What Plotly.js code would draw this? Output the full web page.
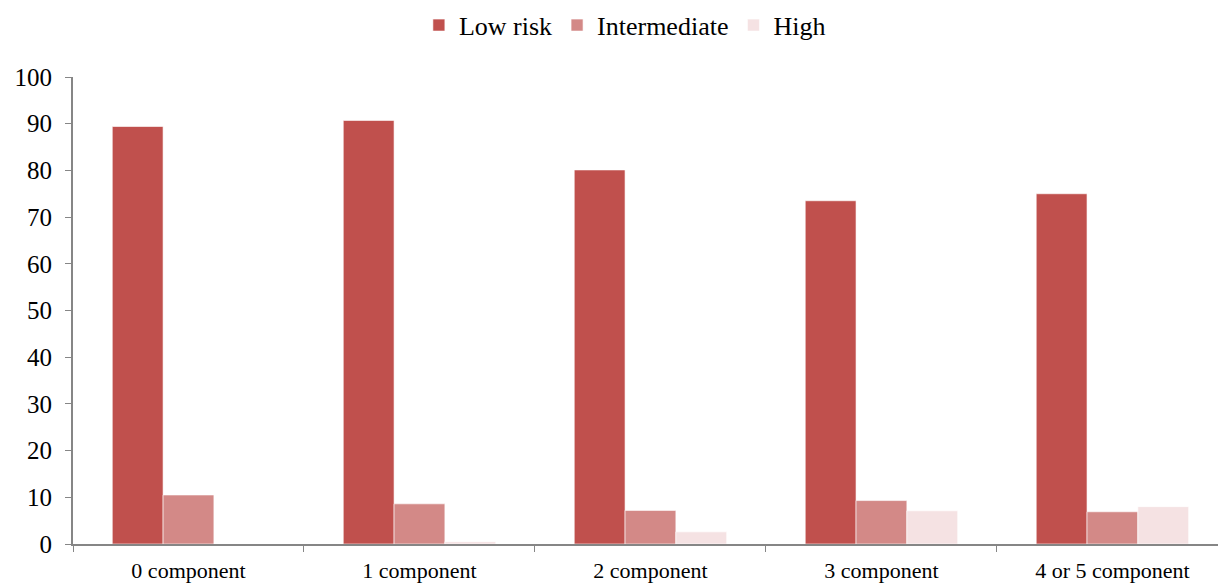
<!DOCTYPE html>
<html>
<head>
<meta charset="utf-8">
<script src="https://cdn.plot.ly/plotly-3.0.1.min.js"></script>
<style>html,body{margin:0;padding:0;background:#fff;}#chart{width:1218px;height:585px;}</style>
</head>
<body>
<div id="chart"></div>
<script>
var categories = ["0 component", "1 component", "2 component", "3 component", "4 or 5 component"];
var lowRisk = [89.4, 90.7, 80.1, 73.5, 75.0];
var intermediate = [10.5, 8.6, 7.2, 9.3, 6.9];
var high = [0, 0.5, 2.6, 7.1, 8.0];
var seriesNames = ["Low risk", "Intermediate", "High"];
var yTicks = [0, 10, 20, 30, 40, 50, 60, 70, 80, 90, 100];

var colors = ["#C0504D", "#D38987", "#F5E2E3"];
var data = [lowRisk, intermediate, high].map(function (vals, i) {
  return {
    type: "bar",
    name: seriesNames[i],
    x: categories,
    y: vals,
    marker: {color: colors[i], line: {color: "rgba(255,255,255,0.6)", width: 1}}
  };
});

var layout = {
  width: 1218,
  height: 585,
  margin: {l: 73, r: 0, t: 77, b: 41},
  paper_bgcolor: "#fff",
  plot_bgcolor: "#fff",
  barmode: "group",
  bargap: 0.34,
  bargroupgap: 0,
  font: {family: "Liberation Serif, Times New Roman, serif", color: "#000", size: 22},
  showlegend: true,
  legend: {
    orientation: "h",
    x: 0.482, xanchor: "center",
    y: 1.111, yanchor: "middle",
    font: {size: 26},
    itemwidth: 30,
    traceorder: "normal"
  },
  xaxis: {
    type: "category",
    range: [-0.5, 4.457],
    showline: true,
    linecolor: "#868686",
    linewidth: 2,
    ticks: "outside",
    tickson: "boundaries",
    ticklen: 6,
    tickcolor: "#868686",
    tickwidth: 1,
    tickfont: {size: 22},
    ticklabelstandoff: 6,
    showgrid: false,
    zeroline: false
  },
  yaxis: {
    range: [0, 100],
    tickvals: yTicks,
    ticktext: yTicks.map(String),
    showline: true,
    linecolor: "#868686",
    linewidth: 2,
    ticks: "outside",
    ticklen: 6,
    tickcolor: "#868686",
    tickwidth: 1,
    tickfont: {size: 25},
    ticklabelstandoff: 8,
    showgrid: false,
    zeroline: false
  }
};

Plotly.newPlot("chart", data, layout, {displayModeBar: false, staticPlot: true});
</script>
</body>
</html>
